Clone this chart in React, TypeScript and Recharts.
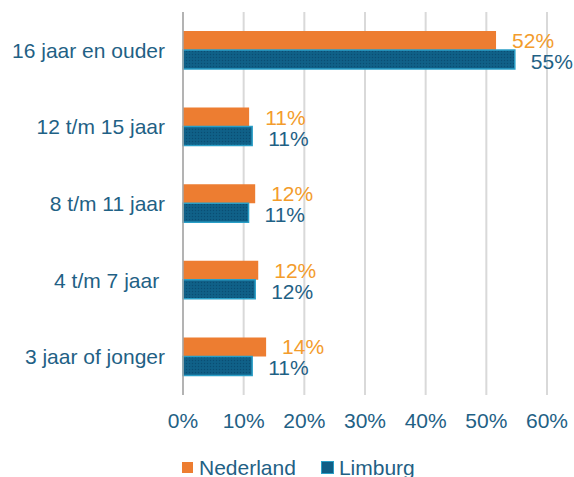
import React from 'react';
import {
  BarChart,
  Bar,
  XAxis,
  YAxis,
  CartesianGrid,
  Legend,
  LabelList,
} from 'recharts';

// age groups, top to bottom as in the picture
const categories = [
  '16 jaar en ouder',
  '12 t/m 15 jaar',
  '8 t/m 11 jaar',
  '4 t/m 7 jaar ',
  '3 jaar of jonger',
];
const nederland = [51.6, 10.9, 11.9, 12.4, 13.7];
const limburg = [54.7, 11.4, 10.8, 11.9, 11.4];
const xTicks = [0, 10, 20, 30, 40, 50, 60];

const FONT = '"Liberation Sans", Arial, sans-serif';
const TEXT = '#1F6185';
const ORANGE = '#ED7D31';
const ORANGE_LABEL = '#F39C2C';
const BLUE = '#0F5E86';
const BLUE_EDGE = '#2A9FC7';

const data = categories.map((name, i) => ({
  name,
  nederland: nederland[i],
  limburg: limburg[i],
}));

const pct = (v: any) => `${Math.round(Number(v))}%`;

const CatTick = ({ x, y, payload }: any) => (
  <text
    x={x}
    y={y}
    dy={7.5}
    textAnchor="end"
    fill={TEXT}
    fontSize={21}
    fontFamily={FONT}
    xmlSpace="preserve"
    style={{ whiteSpace: 'pre' }}
  >
    {payload.value}
  </text>
);

const LegendBox = () => (
  <div
    style={{
      height: 42,
      paddingTop: 22,
      paddingLeft: 182,
      boxSizing: 'border-box',
      display: 'flex',
      alignItems: 'center',
      fontFamily: FONT,
      fontSize: 21,
      lineHeight: '21px',
      color: TEXT,
      whiteSpace: 'nowrap',
    }}
  >
    <span style={{ width: 11, height: 11, background: ORANGE, display: 'inline-block', marginRight: 6 }} />
    <span style={{ marginRight: 25 }}>Nederland</span>
    <span
      style={{
        width: 11,
        height: 11,
        background: BLUE,
        border: `1px solid ${BLUE_EDGE}`,
        display: 'inline-block',
        marginRight: 5,
      }}
    />
    <span>Limburg</span>
  </div>
);

export default function App() {
  return (
    <div style={{ position: 'absolute', left: 0, top: 0, width: 574, height: 477, background: '#fff' }}>
      <BarChart
        width={574}
        height={477}
        data={data}
        layout="vertical"
        margin={{ top: 12, right: 27, bottom: 0, left: 0 }}
        barSize={19}
        barGap={0}
      >
        <defs>
          <pattern id="dots" width="3" height="3" patternUnits="userSpaceOnUse">
            <rect width="3" height="3" fill={BLUE} />
            <rect x="0" y="0" width="1" height="1" fill="#0A4E72" />
            <rect x="1.5" y="1.5" width="1" height="1" fill="#13688F" />
          </pattern>
        </defs>
        <CartesianGrid horizontal={false} stroke="#D9D9D9" strokeWidth={2} />
        <XAxis
          type="number"
          domain={[0, 60]}
          ticks={xTicks}
          tickFormatter={(v) => `${v}%`}
          axisLine={false}
          tickLine={false}
          tickMargin={12}
          height={40}
          tick={{ fill: TEXT, fontSize: 21, fontFamily: FONT }}
          interval={0}
        />
        <YAxis
          type="category"
          dataKey="name"
          width={183}
          axisLine={{ stroke: '#A6A6A6', strokeWidth: 1.5 }}
          tickLine={false}
          tickMargin={12}
          tick={<CatTick />}
          interval={0}
        />
        <Legend verticalAlign="bottom" align="left" height={42} content={<LegendBox />} />
        <Bar dataKey="nederland" fill={ORANGE} isAnimationActive={false}>
          <LabelList
            dataKey="nederland"
            position="right"
            offset={16}
            formatter={pct}
            fill={ORANGE_LABEL}
            fontSize={21}
            fontFamily={FONT}
          />
        </Bar>
        <Bar
          dataKey="limburg"
          fill="url(#dots)"
          stroke={BLUE_EDGE}
          strokeWidth={1.5}
          isAnimationActive={false}
        >
          <LabelList
            dataKey="limburg"
            position="right"
            offset={16}
            dy={2}
            formatter={pct}
            fill={TEXT}
            fontSize={21}
            fontFamily={FONT}
          />
        </Bar>
      </BarChart>
    </div>
  );
}
